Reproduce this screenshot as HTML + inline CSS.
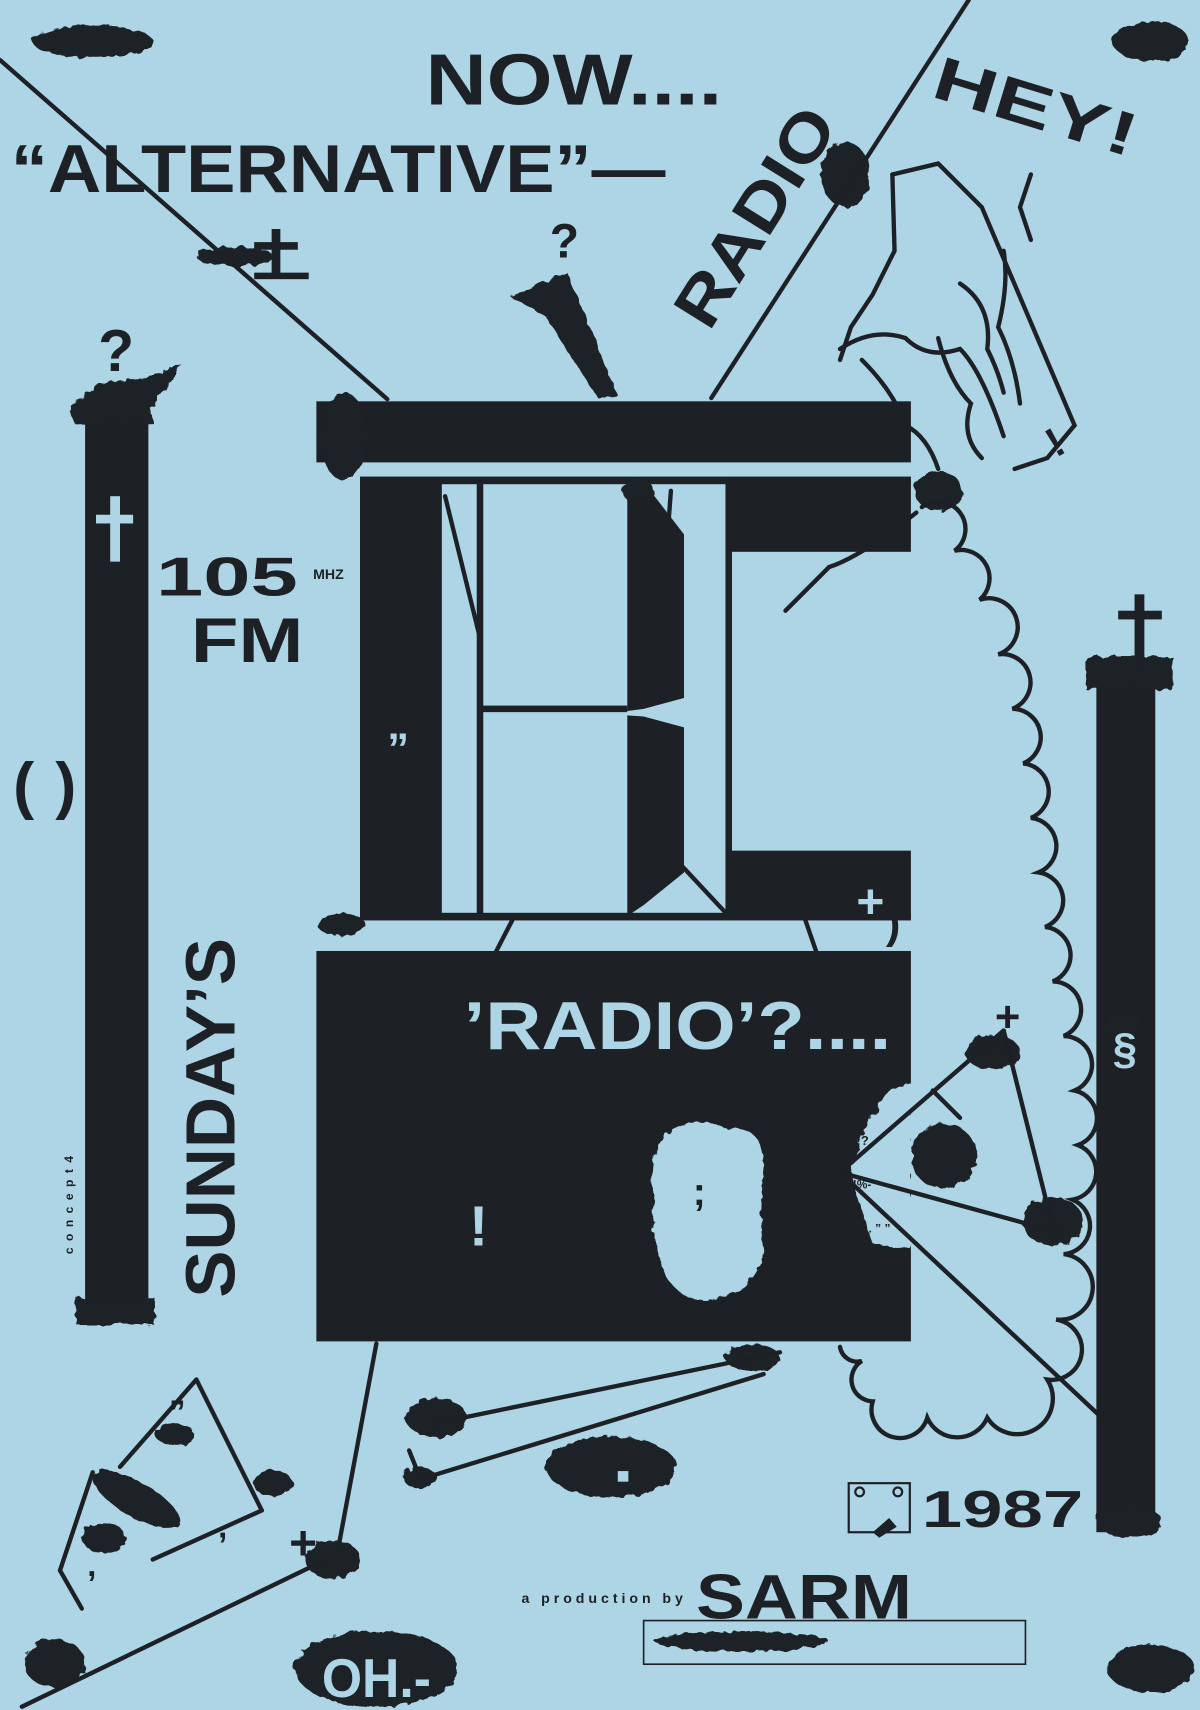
<!DOCTYPE html>
<html><head><meta charset="utf-8"><style>
html,body{margin:0;padding:0;background:#aed5e6;}
svg{display:block}
text{font-family:"Liberation Sans",sans-serif;font-weight:bold}
</style></head><body>
<svg width="1200" height="1710" viewBox="0 0 1100 1568" preserveAspectRatio="none" xmlns="http://www.w3.org/2000/svg">
<defs>
<filter id="r" x="-10%" y="-10%" width="120%" height="120%">
<feTurbulence type="fractalNoise" baseFrequency="0.12" numOctaves="2" seed="3"/>
<feDisplacementMap in="SourceGraphic" scale="7"/>
</filter>
</defs>
<rect width="1100" height="1568" fill="#aed5e6"/>
<g fill="#1d2125" stroke="none">
<rect x="290" y="368" width="545" height="56"/>
<rect x="330" y="437" width="505" height="7"/>
<rect x="330" y="837" width="505" height="7"/>
<rect x="330" y="440" width="75" height="402"/>
<rect x="668" y="440" width="167" height="66"/>
<rect x="668" y="780" width="167" height="62"/>
<rect x="665" y="440" width="6" height="400"/>
<rect x="437" y="440" width="6" height="400"/>
<rect x="440" y="647" width="135" height="6"/>
<polygon points="575,448 600,455 627,490 627,640 590,650 575,652"/>
<polygon points="575,656 590,657 627,667 627,800 590,830 575,840"/>
<rect x="290" y="872" width="545" height="358"/>
<rect x="78" y="385" width="58" height="820"/>
<polygon points="62,375 95,350 130,348 168,335 138,375 140,388 70,390" filter="url(#r)"/>
<rect x="70" y="1190" width="72" height="25" filter="url(#r)"/>
<rect x="1005" y="615" width="54" height="790"/>
<rect x="995" y="602" width="80" height="30" filter="url(#r)"/>
<rect x="1040" y="545" width="9" height="65"/>
<rect x="1025" y="560" width="40" height="8"/>
<rect x="249" y="210" width="8" height="45"/>
<rect x="233" y="222" width="40" height="7"/>
<rect x="233" y="250" width="50" height="6"/>
<polygon points="468,272 520,250 566,362 548,365 500,290" filter="url(#r)"/>
<g filter="url(#r)">
<ellipse cx="85" cy="38" rx="55" ry="15"/>
<ellipse cx="1055" cy="38" rx="35" ry="18"/>
<ellipse cx="775" cy="160" rx="22" ry="30"/>
<ellipse cx="215" cy="235" rx="35" ry="9"/>
<ellipse cx="315" cy="400" rx="22" ry="40"/>
<ellipse cx="860" cy="450" rx="22" ry="18"/>
<ellipse cx="313" cy="848" rx="22" ry="10"/>
<ellipse cx="585" cy="450" rx="14" ry="12"/>
<ellipse cx="910" cy="965" rx="25" ry="16"/>
<ellipse cx="865" cy="1060" rx="30" ry="30"/>
<ellipse cx="965" cy="1120" rx="28" ry="22"/>
<ellipse cx="1035" cy="1395" rx="30" ry="15"/>
<ellipse cx="160" cy="1315" rx="18" ry="10"/>
<ellipse cx="125" cy="1375" rx="45" ry="16" transform="rotate(30 125 1375)"/>
<ellipse cx="95" cy="1410" rx="20" ry="14"/>
<ellipse cx="250" cy="1360" rx="18" ry="12"/>
<ellipse cx="50" cy="1525" rx="28" ry="22"/>
<ellipse cx="1055" cy="1530" rx="40" ry="22"/>
<ellipse cx="560" cy="1345" rx="60" ry="28"/>
<ellipse cx="400" cy="1300" rx="28" ry="18"/>
<ellipse cx="385" cy="1355" rx="15" ry="10"/>
<ellipse cx="690" cy="1245" rx="25" ry="12"/>
<ellipse cx="305" cy="1430" rx="25" ry="18"/>
<ellipse cx="345" cy="1530" rx="75" ry="35"/>
<ellipse cx="680" cy="1505" rx="80" ry="9"/>
<ellipse cx="1030" cy="945" rx="18" ry="20"/>
</g>
</g>
<path d="M610,1040 Q640,1020 665,1035 Q700,1030 700,1070 Q695,1110 700,1150 Q690,1185 660,1190 Q630,1200 610,1170 Q595,1130 600,1100 Q592,1060 610,1040Z" fill="#aed5e6" filter="url(#r)"/>
<path d="M836,993 L815,1000 L795,1030 L780,1075 L790,1110 L800,1140 L836,1146 Z" fill="#aed5e6" filter="url(#r)"/>
<g stroke="#1d2125" stroke-width="4" fill="none" stroke-linecap="round">
<line x1="0" y1="55" x2="355" y2="366"/>
<line x1="652" y1="365" x2="888" y2="0"/>
<line x1="408" y1="455" x2="440" y2="585"/>
<line x1="626" y1="795" x2="668" y2="840"/>
<line x1="470" y1="843" x2="455" y2="872"/>
<line x1="738" y1="843" x2="748" y2="872"/>
<line x1="345" y1="1232" x2="310" y2="1420"/>
<line x1="295" y1="1432" x2="20" y2="1565"/>
<line x1="400" y1="1305" x2="715" y2="1240"/>
<line x1="390" y1="1355" x2="700" y2="1260"/>
<line x1="375" y1="1330" x2="385" y2="1355"/>
<line x1="180" y1="1265" x2="240" y2="1385"/>
<line x1="180" y1="1265" x2="110" y2="1345"/>
<line x1="85" y1="1350" x2="55" y2="1440"/>
<line x1="240" y1="1385" x2="140" y2="1430"/>
<line x1="55" y1="1440" x2="75" y2="1475"/>
<line x1="770" y1="1075" x2="920" y2="945"/>
<line x1="770" y1="1075" x2="970" y2="1130"/>
<line x1="920" y1="945" x2="965" y2="1125"/>
<line x1="770" y1="1075" x2="1010" y2="1300"/>
<line x1="855" y1="1000" x2="880" y2="1025"/>
<polyline points="818,160 860,150 900,190 985,390 960,420 930,430"/>
<polyline points="818,160 820,230 800,270 780,300 770,330"/>
<path d="M770,320 Q800,300 830,310 Q850,330 880,320 Q900,340 920,400"/>
<path d="M790,330 Q820,360 830,390 Q850,400 860,430"/>
<path d="M860,310 Q870,350 890,370 Q880,400 900,420"/>
<path d="M880,260 Q910,280 905,320 Q915,340 920,360"/>
<path d="M920,230 Q925,260 915,300 Q930,330 935,370"/>
<path d="M945,160 L935,190 L945,220"/>
<path d="M840,470 Q790,510 760,520 Q740,540 720,560"/>
<line x1="615" y1="450" x2="612" y2="490"/>
<rect x="778" y="1360" width="56" height="45" stroke-width="2"/>
<rect x="590" y="1486" width="350" height="40" stroke-width="1.5"/>
<path stroke-width="4" d="M845,465 A24 24 0 0 1 875,505 A26 26 0 0 1 898,550 A26 26 0 0 1 915,600 A26 26 0 0 1 928,650 A26 26 0 0 1 938,700 A26 26 0 0 1 945,750 A26 26 0 0 1 952,800 A26 26 0 0 1 958,850 A26 26 0 0 1 965,900 A26 26 0 0 1 975,950 A26 26 0 0 1 985,1000 A26 26 0 0 1 988,1050 A26 26 0 0 1 983,1100 A26 26 0 0 1 975,1150 A28 28 0 0 1 968,1210 A26 26 0 0 1 960,1265 A30 30 0 0 1 905,1300 A30 30 0 0 1 850,1300 A26 26 0 0 1 800,1285 A20 20 0 0 1 790,1248 A16 16 0 0 1 770,1235"/>
</g>
<g fill="#1d2125" stroke="none">
<circle cx="788" cy="1368" r="4" fill="none" stroke="#1d2125" stroke-width="2"/>
<circle cx="823" cy="1368" r="4" fill="none" stroke="#1d2125" stroke-width="2"/>
<polygon points="800,1405 815,1392 822,1400 806,1410"/>
</g>
<g fill="#1d2125">
<text x="390" y="96" font-size="66" textLength="272" lengthAdjust="spacingAndGlyphs">NOW....</text>
<text x="10" y="176" font-size="62" textLength="600" lengthAdjust="spacingAndGlyphs">“ALTERNATIVE”—</text>
<text transform="translate(650,305) rotate(-58)" font-size="60" textLength="225" lengthAdjust="spacingAndGlyphs">RADIO</text>
<text transform="translate(852,88) rotate(17)" font-size="56" textLength="192" lengthAdjust="spacingAndGlyphs">HEY!</text>
<text x="504" y="236" font-size="44">?</text>
<text x="90" y="340" font-size="54">?</text>
<text x="143" y="546" font-size="50" textLength="130" lengthAdjust="spacingAndGlyphs">105</text>
<text x="287" y="531" font-size="13">MHZ</text>
<text x="175" y="607" font-size="58" textLength="103" lengthAdjust="spacingAndGlyphs">FM</text>
<text x="12" y="740" font-size="58" textLength="58" lengthAdjust="spacing">( )</text>
<text transform="translate(215,1190) rotate(-90)" font-size="64" textLength="330" lengthAdjust="spacingAndGlyphs">SUNDAY’S</text>
<text transform="translate(67,1150) rotate(-90)" font-size="11" textLength="90" lengthAdjust="spacing">concept4</text>
<text x="845" y="1400" font-size="48" textLength="148" lengthAdjust="spacingAndGlyphs">1987</text>
<text x="478" y="1470" font-size="13" textLength="148" lengthAdjust="spacing">a production by</text>
<text x="638" y="1484" font-size="58" textLength="198" lengthAdjust="spacingAndGlyphs">SARM</text>
<text x="820" y="812" font-size="45">!</text>
<text x="812" y="860" font-size="40">)</text>
<text x="155" y="1305" font-size="30">”</text>
<text x="200" y="1410" font-size="30">,</text>
<text x="80" y="1445" font-size="30">,</text>
<text x="565" y="1360" font-size="20" fill="#aed5e6">■</text>
<text x="635" y="1105" font-size="36">;</text>
<text x="968" y="420" font-size="38" transform="rotate(-30 968 420)">!</text>
<text x="912" y="946" font-size="40">+</text>
<text x="265" y="1430" font-size="44">+</text>
<text x="785" y="1050" font-size="12">!?</text>
<text x="778" y="1090" font-size="11">;!%-</text>
<text x="790" y="1130" font-size="11">. . ” ”</text>
</g>
<g fill="#aed5e6">
<text x="425" y="962" font-size="62" textLength="392" lengthAdjust="spacingAndGlyphs">’RADIO’?....</text>
<text x="430" y="1142" font-size="52">!</text>
<text x="355" y="700" font-size="40">”</text>
<text x="785" y="842" font-size="44">+</text>
<rect x="101" y="455" width="9" height="60"/>
<rect x="88" y="472" width="34" height="8"/>
<text x="1020" y="975" font-size="40">§</text>
<text x="295" y="1556" font-size="50" textLength="100" lengthAdjust="spacingAndGlyphs">OH.-</text>
</g>
</svg>
</body></html>
